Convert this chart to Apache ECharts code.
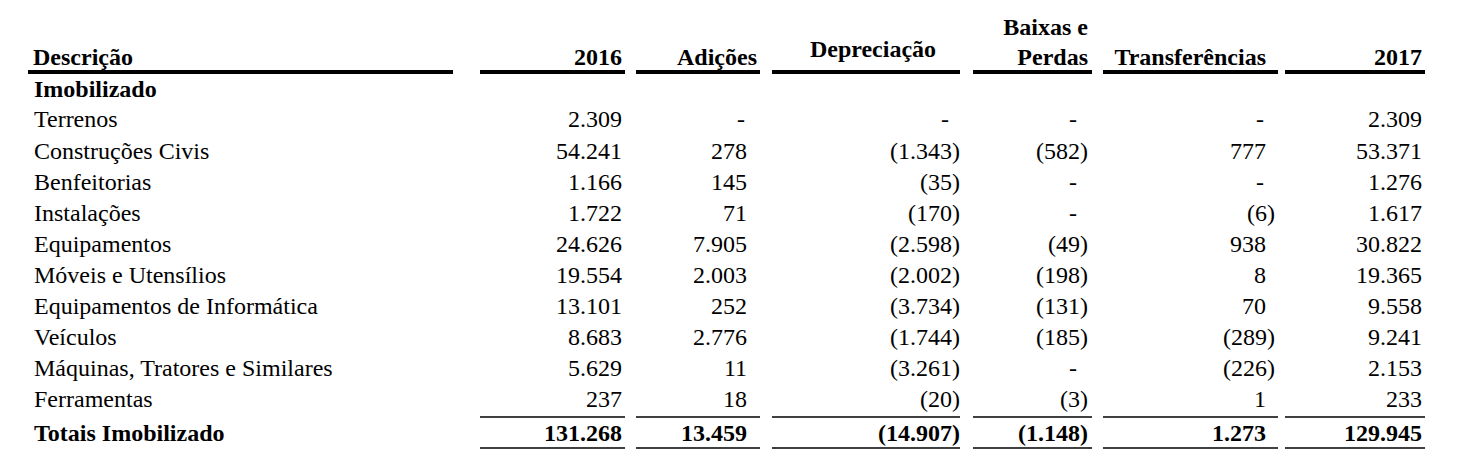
<!DOCTYPE html>
<html>
<head>
<meta charset="utf-8">
<script src="https://cdn.jsdelivr.net/npm/echarts@6/dist/echarts.min.js"></script>
<style>
html,body{margin:0;padding:0;background:#fff;}
#chart{width:1476px;height:464px;}
</style>
</head>
<body>
<div id="chart"></div>
<script>
// ---------- DATA ----------
const headers = ['Descrição', '2016', 'Adições', 'Depreciação', 'Baixas e\nPerdas', 'Transferências', '2017'];
const sectionTitle = 'Imobilizado';
const categories = ['Terrenos', 'Construções Civis', 'Benfeitorias', 'Instalações', 'Equipamentos',
  'Móveis e Utensílios', 'Equipamentos de Informática', 'Veículos', 'Máquinas, Tratores e Similares', 'Ferramentas'];
const v2016 = [2309, 54241, 1166, 1722, 24626, 19554, 13101, 8683, 5629, 237];
const adicoes = [null, 278, 145, 71, 7905, 2003, 252, 2776, 11, 18];
const depreciacao = [null, -1343, -35, -170, -2598, -2002, -3734, -1744, -3261, -20];
const baixasPerdas = [null, -582, null, null, -49, -198, -131, -185, null, -3];
const transferencias = [null, 777, null, -6, 938, 8, 70, -289, -226, 1];
const v2017 = [2309, 53371, 1276, 1617, 30822, 19365, 9558, 9241, 2153, 233];
const totalLabel = 'Totais Imobilizado';
const totals = [131268, 13459, -14907, -1148, 1273, 129945];

// ---------- LAYOUT (positions / styles) ----------
const FONT = '"Liberation Serif", Tinos, "Times New Roman", "DejaVu Serif", serif';
const FS = 24;
const labelX = 34;
const colRight = [622, 747, 951, 1079, 1266, 1422];   // right edge of digits per numeric column
const parenShift = 9;   // closing parenthesis hangs out
const dashShift = -2;
const sectionY = 89;
const rowY = [119, 150.5, 182, 213, 244, 275, 306, 337, 368, 399];
const totalY = 433;
const headerPos = [
  {x: 33, y: 57, align: 'left'},
  {x: 622, y: 57, align: 'right'},
  {x: 757, y: 57, align: 'right'},
  {x: 873, y: 49, align: 'center'},
  {x: 1088, y: 42, align: 'right'},
  {x: 1266, y: 57, align: 'right'},
  {x: 1422, y: 57, align: 'right'}
];
const segs = [[28, 453], [480, 625], [636, 760], [772, 960], [973, 1092], [1103, 1278], [1285, 1425]];
const thickY = 72, thickW = 4;
const thinYs = [417, 448], thinW = 1.5;

// ---------- BUILD ----------
function fmt(v) {
  const s = String(Math.abs(v)).replace(/\B(?=(\d{3})+(?!\d))/g, '.');
  return v < 0 ? '(' + s + ')' : s;
}
const cells = [];
function addText(x, y, text, align, bold, lineHeight) {
  cells.push({value: [x, y], text: text, align: align, bold: bold, lh: lineHeight});
}
function addNum(col, y, v, bold) {
  const x = colRight[col];
  if (v === null || v === undefined) cells.push({value: [x, y], text: '-', align: 'right', bold: bold, dx: dashShift});
  else cells.push({value: [x, y], text: fmt(v), align: 'right', bold: bold, dx: v < 0 ? parenShift : 0});
}
headers.forEach((h, i) => addText(headerPos[i].x, headerPos[i].y, h, headerPos[i].align, true, 30));
addText(labelX, sectionY, sectionTitle, 'left', true);
const columns = [v2016, adicoes, depreciacao, baixasPerdas, transferencias, v2017];
categories.forEach((c, r) => {
  addText(labelX, rowY[r], c, 'left', false);
  columns.forEach((arr, ci) => addNum(ci, rowY[r], arr[r], false));
});
addText(labelX, totalY, totalLabel, 'left', true);
totals.forEach((v, ci) => addNum(ci, totalY, v, true));

const rules = [];
segs.forEach(s => rules.push([s[0], thickY, s[1], thickW]));
thinYs.forEach(y => segs.slice(1).forEach(s => rules.push([s[0], y, s[1], thinW])));

const chart = echarts.init(document.getElementById('chart'), null, {renderer: 'svg'});
chart.setOption({
  animation: false,
  backgroundColor: '#ffffff',
  textStyle: {fontFamily: FONT},
  grid: {left: 0, right: 0, top: 0, bottom: 0},
  xAxis: {type: 'value', min: 0, max: 1476, show: false},
  yAxis: {type: 'value', min: 0, max: 464, inverse: true, show: false},
  series: [
    {
      type: 'custom', silent: true, clip: false,
      data: rules,
      encode: {x: [0, 2], y: 1},
      renderItem: function (params, api) {
        const r = rules[params.dataIndex];
        const p1 = api.coord([r[0], r[1]]);
        const p2 = api.coord([r[2], r[1]]);
        return {type: 'rect', shape: {x: p1[0], y: p1[1] - r[3] / 2, width: p2[0] - p1[0], height: r[3]},
          style: {fill: '#000'}};
      }
    },
    {
      type: 'custom', silent: true, clip: false,
      data: cells.map(c => c.value),
      encode: {x: 0, y: 1},
      renderItem: function (params, api) {
        const c = cells[params.dataIndex];
        const p = api.coord([api.value(0), api.value(1)]);
        return {
          type: 'text', x: p[0] + (c.dx || 0), y: p[1],
          style: {
            text: c.text, fill: '#000',
            font: (c.bold ? 'bold ' : 'normal ') + FS + 'px ' + FONT,
            fontFamily: FONT, fontSize: FS, fontWeight: c.bold ? 'bold' : 'normal',
            align: c.align, verticalAlign: 'middle',
            lineHeight: c.lh || FS
          }
        };
      }
    }
  ]
});
</script>
</body>
</html>
